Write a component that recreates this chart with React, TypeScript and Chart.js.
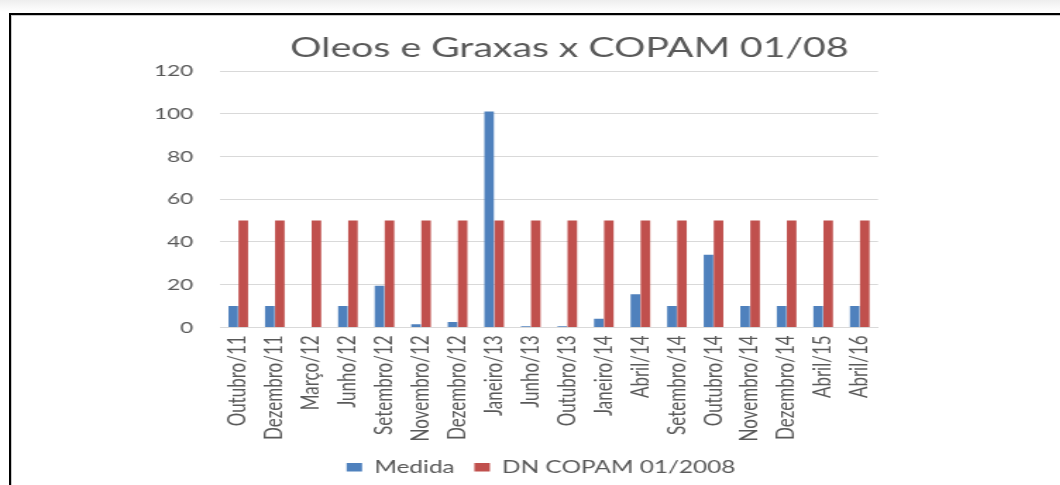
import React, { useEffect, useRef } from "react";
import { Chart, registerables } from "chart.js";

Chart.register(...registerables);

const TITLE = "Oleos e Graxas x COPAM 01/08";
const categories = [
  "Outubro/11", "Dezembro/11", "Março/12", "Junho/12", "Setembro/12", "Novembro/12",
  "Dezembro/12", "Janeiro/13", "Junho/13", "Outubro/13", "Janeiro/14", "Abril/14",
  "Setembro/14", "Outubro/14", "Novembro/14", "Dezembro/14", "Abril/15", "Abril/16",
];
const medida = [10, 10, 0, 10, 19.5, 1.5, 2.5, 101, 0.5, 0.5, 4, 15.5, 10, 34, 10, 10, 10, 10];
const copam = [50, 50, 50, 50, 50, 50, 50, 50, 50, 50, 50, 50, 50, 50, 50, 50, 50, 50];
const seriesNames = ["Medida", "DN COPAM 01/2008"];
const yMin = 0;
const yMax = 120;
const yStep = 20;

const STRETCH = 1.41;
const TEXT = "#595959";

const titlePlugin = {
  id: "customTitle",
  afterDraw(chart: any) {
    const { ctx, chartArea } = chart;
    ctx.save();
    ctx.font = "27.8px Lato";
    ctx.fillStyle = TEXT;
    ctx.textAlign = "center";
    ctx.textBaseline = "alphabetic";
    ctx.fillText(TITLE, (chartArea.left + chartArea.right) / 2 + 14.5, chartArea.top - 14);
    ctx.restore();
  },
};

export default function App() {
  const ref = useRef<HTMLCanvasElement>(null);
  useEffect(() => {
    if (!ref.current) return;
    const chart = new Chart(ref.current, {
      type: "bar",
      data: {
        labels: categories,
        datasets: [
          { label: seriesNames[0], data: medida, backgroundColor: "#4F81BD", categoryPercentage: 0.55, barPercentage: 0.95 },
          { label: seriesNames[1], data: copam, backgroundColor: "#C0504D", categoryPercentage: 0.55, barPercentage: 0.95 },
        ],
      },
      options: {
        animation: false,
        responsive: true,
        maintainAspectRatio: false,
        layout: { padding: { left: 94.7, right: 79.3, top: 71, bottom: -1 } },
        plugins: {
          title: { display: false },
          tooltip: { enabled: false },
          legend: {
            position: "bottom",
            labels: {
              font: { family: "Lato", size: 17.3 },
              color: TEXT,
              boxWidth: 11,
              boxHeight: 8.5,
              padding: 14,
            },
          },
        },
        scales: {
          x: {
            grid: { display: false, drawTicks: false },
            border: { display: true, color: "#D9D9D9", width: 1 },
            ticks: {
              font: { family: "Lato", size: 17 },
              color: TEXT,
              minRotation: 90,
              maxRotation: 90,
              autoSkip: false,
              padding: 8,
            },
            afterFit: (axis: any) => { axis.height = 117.3; },
          },
          y: {
            min: yMin,
            max: yMax,
            grid: { color: "#D9D9D9", drawTicks: false, lineWidth: 1 },
            border: { display: false },
            ticks: {
              stepSize: yStep,
              font: { family: "Lato", size: 16 },
              color: TEXT,
              padding: 19,
            },
            afterFit: (axis: any) => { axis.width = 61.3; },
          },
          spacer: {
            type: "linear",
            position: "right",
            min: 0,
            max: 1,
            grid: { display: false, drawTicks: false },
            border: { display: false },
            ticks: { display: false },
            afterFit: (axis: any) => { axis.width = 50; },
          },
        },
      },
      plugins: [titlePlugin],
    });
    return () => chart.destroy();
  }, []);

  return (
    <div style={{ position: "fixed", left: 0, top: 0, width: 1060, height: 485, overflow: "hidden", background: "#fff" }}>
      <div style={{ position: "absolute", left: 0, top: 0, width: 1060, height: 12, background: "linear-gradient(to bottom, #eeeeee, #ffffff)" }} />
      <div
        style={{
          position: "absolute", left: 9, top: 13, width: 1200, height: 700,
          borderTop: "2px solid #000", borderLeft: "2px solid #000",
          boxShadow: "inset 1px 1px 0 #c8c8c8",
        }}
      />
      <div
        style={{
          position: "absolute", left: 0, top: 0, width: 752, height: 485,
          transform: `scaleX(${STRETCH})`, transformOrigin: "0 0",
        }}
      >
        <canvas ref={ref} />
      </div>
    </div>
  );
}
